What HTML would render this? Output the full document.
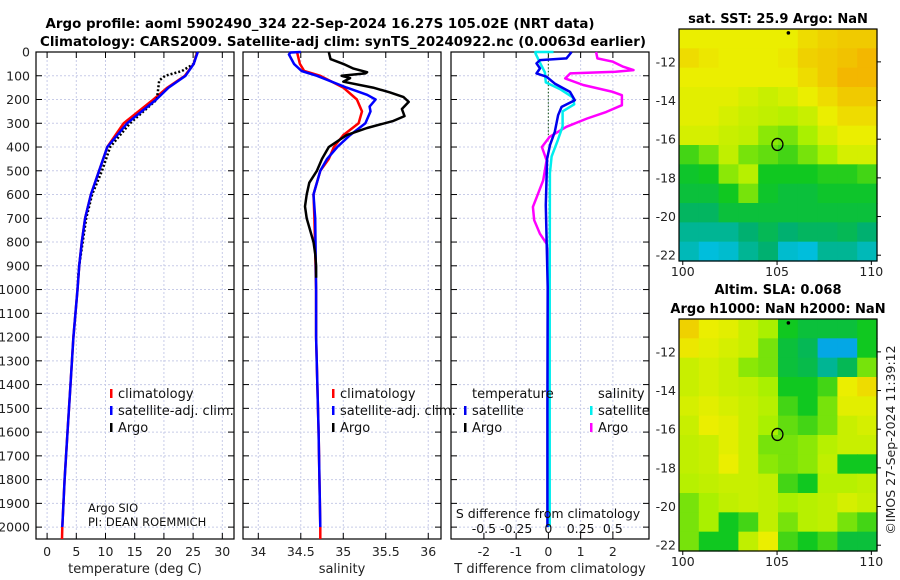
<!DOCTYPE html>
<html><head><meta charset="utf-8"><style>
html,body{margin:0;padding:0;background:#fff;}
svg{display:block;font-family:"DejaVu Sans","Liberation Sans",sans-serif;}
</style></head><body>
<svg id="fig" width="900" height="580" viewBox="0 0 900 580" xmlns="http://www.w3.org/2000/svg">
<text x="320" y="28" font-size="13" font-weight="bold" text-anchor="middle" textLength="549" lengthAdjust="spacingAndGlyphs">Argo profile: aoml 5902490_324 22-Sep-2024 16.27S 105.02E (NRT data)</text>
<text x="343" y="46" font-size="13" font-weight="bold" text-anchor="middle" textLength="606" lengthAdjust="spacingAndGlyphs">Climatology: CARS2009. Satellite-adj clim: synTS_20240922.nc (0.0063d earlier)</text>
<g id="g"></g>
</svg>
<script>
// ---------- data ----------
const tClimDepth=[0,50,100,150,200,300,400,500,600,700,800,900,1000,1200,1400,1600,1800,2000,2050];
const tClimVal=[25.7,25.1,23.6,20.6,18.2,13.1,10.3,8.9,7.5,6.5,5.95,5.5,5.2,4.5,4.0,3.5,3.0,2.6,2.55];
const tSatDepth=[0,50,100,150,200,300,400,500,600,700,800,900,1000,1200,1400,1600,1800,2000];
const tSatVal=[25.8,25.1,23.7,20.8,18.7,13.7,10.3,8.9,7.5,6.5,5.95,5.5,5.2,4.5,4.0,3.5,3.0,2.6];
const tArgoDepth=[0,50,80,100,120,200,300,400,500,600,700,800,900,950];
const tArgoVal=[25.7,25.1,23.1,20.2,19.2,18.8,14.2,10.8,9.4,7.7,6.7,6.1,5.5,5.3];
const sClimDepth=[0,50,80,100,150,200,250,300,350,400,450,500,600,700,1000,1200,1600,2000,2050];
const sClimVal=[34.455,34.49,34.54,34.73,35.0,35.16,35.22,35.18,35.0,34.89,34.83,34.73,34.65,34.66,34.68,34.68,34.71,34.73,34.73];
const sSatDepth=[0,2,10,50,80,100,150,180,200,230,250,300,350,400,450,500,600,700,1000,1200,1600,2000];
const sSatVal=[34.5,34.38,34.36,34.42,34.51,34.69,35.04,35.28,35.38,35.31,35.32,35.26,35.08,34.93,34.81,34.73,34.65,34.67,34.68,34.68,34.71,34.73];
const sArgoDepth=[0,30,50,70,85,90,100,110,125,150,170,190,210,240,270,290,320,350,400,450,500,550,600,650,700,750,800,850,900,950];
const sArgoVal=[34.83,34.85,35.0,35.12,35.28,35.26,34.98,35.08,35.0,35.35,35.55,35.71,35.77,35.69,35.72,35.59,35.28,35.04,34.83,34.75,34.69,34.6,34.57,34.55,34.57,34.61,34.65,34.67,34.68,34.68];
const dTSatDepth=[0,27,34,48,69,90,104,133,168,203,231,266,336,392,449,645,990,1500,2000];
const dTSatVal=[0.72,0.56,-0.26,-0.37,-0.26,-0.37,-0.06,0.2,0.67,0.82,0.41,0.3,0.2,0.05,-0.04,-0.08,-0.02,-0.03,-0.03];
const dSSatDepth=[0,0,6,44,86,128,156,191,220,250,313,370,440,510,1000,1500,2000];
const dSSatVal=[0.04,-0.1,-0.1,-0.066,-0.027,-0.02,0.09,0.19,0.2,0.11,0.11,0.074,0.025,0.012,0.01,0.01,0.01];
const dSArgoDepth=[0,27,41,62,76,83,90,111,139,168,182,224,252,280,315,357,400,456,540,610,652,708,765,807,863,933,950];
const dSArgoVal=[0.37,0.38,0.5,0.58,0.66,0.52,0.17,0.13,0.27,0.5,0.57,0.57,0.45,0.3,0.14,0.01,-0.05,-0.014,-0.04,-0.09,-0.12,-0.11,-0.066,-0.014,0.0,0.01,0.01];
const depthTicks=[0,100,200,300,400,500,600,700,800,900,1000,1100,1200,1300,1400,1500,1600,1700,1800,1900,2000];
const tTicks=[0,5,10,15,20,25,30];
const sTicks=[34,34.5,35,35.5,36];
const sTickLabels=["34","34.5","35","35.5","36"];
const dTTicks=[-2,-1,0,1,2];
const dSTicks=[-0.5,-0.25,0,0.25,0.5];
const dSTickLabels=["-0.5","-0.25","0","0.25","0.5"];
const latTicks=[-12,-14,-16,-18,-20,-22];
const lonTicks=[100,105,110];
const sstGrid=[
[0.8,0.8,0.8,0.8,0.8,0.8,0.85,0.88,0.9,0.9],
[0.85,0.82,0.8,0.8,0.8,0.82,0.88,0.9,0.92,0.95],
[0.8,0.8,0.8,0.8,0.8,0.8,0.85,0.9,0.95,0.95],
[0.78,0.78,0.78,0.75,0.72,0.75,0.8,0.85,0.9,0.9],
[0.78,0.78,0.75,0.72,0.7,0.68,0.72,0.8,0.85,0.85],
[0.75,0.75,0.72,0.7,0.62,0.6,0.65,0.75,0.8,0.8],
[0.55,0.6,0.7,0.6,0.58,0.55,0.6,0.65,0.75,0.75],
[0.48,0.5,0.62,0.68,0.5,0.5,0.5,0.52,0.52,0.55],
[0.45,0.45,0.5,0.6,0.48,0.45,0.45,0.48,0.48,0.48],
[0.38,0.38,0.45,0.45,0.45,0.45,0.45,0.45,0.45,0.45],
[0.3,0.3,0.3,0.35,0.4,0.35,0.38,0.38,0.4,0.35],
[0.25,0.2,0.22,0.3,0.35,0.22,0.2,0.3,0.3,0.25]];
const slaGrid=[
[0.88,0.8,0.78,0.72,0.65,0.5,0.45,0.45,0.45,0.5],
[0.82,0.78,0.75,0.72,0.6,0.45,0.4,0.15,0.15,0.5],
[0.72,0.75,0.72,0.62,0.6,0.45,0.42,0.3,0.4,0.6],
[0.72,0.75,0.72,0.7,0.65,0.5,0.5,0.55,0.8,0.85],
[0.75,0.78,0.75,0.72,0.68,0.55,0.5,0.6,0.78,0.78],
[0.72,0.8,0.78,0.72,0.65,0.58,0.55,0.6,0.72,0.75],
[0.7,0.72,0.78,0.72,0.6,0.6,0.62,0.68,0.72,0.72],
[0.7,0.72,0.8,0.72,0.62,0.6,0.62,0.7,0.5,0.5],
[0.68,0.7,0.72,0.72,0.7,0.55,0.5,0.68,0.68,0.7],
[0.6,0.65,0.7,0.72,0.7,0.65,0.68,0.7,0.75,0.72],
[0.6,0.65,0.5,0.55,0.7,0.6,0.68,0.7,0.6,0.55],
[0.6,0.5,0.5,0.7,0.8,0.55,0.5,0.55,0.45,0.45]];
const floatLon=[105.02], floatLat=[-16.27];

// ---------- helpers ----------
const NS="http://www.w3.org/2000/svg";
const G=document.getElementById('g');
function mk(tag,attrs,parent){const e=document.createElementNS(NS,tag);for(const k in attrs)e.setAttribute(k,attrs[k]);(parent||G).appendChild(e);return e;}
const TOP=52, BOT=539, D0=0, D1=2050;
const yD=d=>TOP+(d-D0)/(D1-D0)*(BOT-TOP);
function lin(a0,a1,p0,p1){return v=>p0+(v-a0)/(a1-a0)*(p1-p0);}
const panels=[
 {x0:36,x1:234,v0:-1.9,v1:32,ticks:tTicks,labels:tTicks.map(String),label:"temperature (deg C)",name:"temperature-panel"},
 {x0:243,x1:441,v0:33.82,v1:36.15,ticks:sTicks,labels:sTickLabels,label:"salinity",name:"salinity-panel"},
 {x0:451,x1:649,v0:-3.02,v1:3.12,ticks:dTTicks,labels:dTTicks.map(String),label:"T difference from climatology",name:"difference-panel"}];
panels.forEach(p=>{p.xs=lin(p.v0,p.v1,p.x0,p.x1);});

function drawPanel(p,idx){
 const g=mk('g',{});
 
 
 depthTicks.forEach(d=>{const y=yD(d);
  const l=mk('line',{x1:p.x0,x2:p.x1,y1:y,y2:y,stroke:'#c8cce8','stroke-width':1,'stroke-dasharray':'2,2'},g);
  
  mk('line',{x1:p.x0,x2:p.x0+6,y1:y,y2:y,stroke:'#000'},g);
  mk('line',{x1:p.x1-6,x2:p.x1,y1:y,y2:y,stroke:'#000'},g);
  if(idx===0){const t=mk('text',{x:30,y:y+4.5,'font-size':12.5,'text-anchor':'end',fill:'#222'},g);t.textContent=d;
   }
 });
 p.ticks.forEach((v,i)=>{const x=p.xs(v);
  const l=mk('line',{x1:x,x2:x,y1:TOP,y2:BOT,stroke:'#c8cce8','stroke-width':1,'stroke-dasharray':'2,2'},g);
  
  mk('line',{x1:x,x2:x,y1:BOT-6,y2:BOT,stroke:'#000'},g);
  mk('line',{x1:x,x2:x,y1:TOP,y2:TOP+6,stroke:'#000'},g);
  const t=mk('text',{x:x,y:556,'font-size':12.5,'text-anchor':'middle',fill:'#222'},g);t.textContent=p.labels[i];
  
 });
 const r=mk('rect',{x:p.x0,y:TOP,width:p.x1-p.x0,height:BOT-TOP,fill:'none',stroke:'#000','stroke-width':1.2},g);
 
 const xl=mk('text',{x:(p.x0+p.x1)/2,y:573,'font-size':13,'text-anchor':'middle',fill:'#222'},g);xl.textContent=p.label;
 
}
panels.forEach(drawPanel);

function series(xs,depths,vals,color,w,dash,name){
 const pts=depths.map((d,i)=>xs(vals[i]).toFixed(1)+','+yD(d).toFixed(1)).join(' ');
 const a={points:pts,fill:'none',stroke:color,'stroke-width':w,'stroke-linejoin':'round'};
 if(dash)a['stroke-dasharray']=dash;
 const e=mk('polyline',a);
 
 
}
const P=panels;
series(P[0].xs,tClimDepth,tClimVal,'#f00',2.5,null,'temperature-climatology-line');
series(P[0].xs,tArgoDepth,tArgoVal,'#000',2.5,'2,2','temperature-argo-line');
series(P[0].xs,tSatDepth,tSatVal,'#00f',2.5,null,'temperature-satellite-line');
series(P[1].xs,sClimDepth,sClimVal,'#f00',2.5,null,'salinity-climatology-line');
series(P[1].xs,sSatDepth,sSatVal,'#00f',2.5,null,'salinity-satellite-line');
series(P[1].xs,sArgoDepth,sArgoVal,'#000',2.5,null,'salinity-argo-line');
const sdx=v=>P[2].xs(v*4);
{const z=P[2].xs(0);const l=mk('line',{x1:z,x2:z,y1:yD(5),y2:yD(350),stroke:'#363','stroke-width':1.2,'stroke-dasharray':'1.5,2'});
 }
series(sdx,dSArgoDepth,dSArgoVal,'#f0f',2.5,null,'salinity-difference-argo-line');
series(sdx,dSSatDepth,dSSatVal,'#0ee',2.5,null,'salinity-difference-satellite-line');
series(P[2].xs,dTSatDepth,dTSatVal,'#00e',2.5,null,'temperature-difference-satellite-line');

{const t=mk('text',{x:548,y:518,'font-size':12.5,'text-anchor':'middle',fill:'#111'});t.textContent='S difference from climatology';
 }
dSTicks.forEach((v,i)=>{const t=mk('text',{x:sdx(v),y:533,'font-size':12.5,'text-anchor':'middle',fill:'#111'});t.textContent=dSTickLabels[i];
 });

function legItem(x,y,color,label,name){
 const g=mk('g',{});
 
 
 if(color)mk('rect',{x:x,y:y-9,width:2.5,height:9,fill:color},g);
 const t=mk('text',{x:x+8,y:y,'font-size':13,fill:'#111'},g);t.textContent=label;
}
[[110,'climatology-legend'],[332,'salinity-climatology-legend']].forEach(([x,n])=>{
 legItem(x,398,'#f00','climatology',n+'-climatology');
 legItem(x,415,'#00f','satellite-adj. clim.',n+'-satellite');
 legItem(x,432,'#000','Argo',n+'-argo');
});
legItem(464,398,null,'temperature','legend-temperature-heading');
legItem(464,415,'#00e','satellite','legend-t-satellite');
legItem(464,432,'#000','Argo','legend-t-argo');
legItem(590,398,null,'salinity','legend-salinity-heading');
legItem(590,415,'#0ee','satellite','legend-s-satellite');
legItem(590,432,'#f0f','Argo','legend-s-argo');
{const t=mk('text',{x:88,y:512,'font-size':11.5,fill:'#111'});t.textContent='Argo SIO';
 const t2=mk('text',{x:88,y:526,'font-size':11.5,fill:'#111'});t2.textContent='PI: DEAN ROEMMICH';}

// ---------- maps ----------
const stops=[[0,[16,96,255]],[0.2,[0,190,220]],[0.35,[0,176,112]],[0.5,[16,200,32]],[0.65,[170,240,0]],[0.8,[235,238,0]],[1,[245,165,0]]];
function cmap(v){for(let i=1;i<stops.length;i++){if(v<=stops[i][0]){const a=stops[i-1],b=stops[i],f=(v-a[0])/(b[0]-a[0]);
 return 'rgb('+a[1].map((c,k)=>Math.round(c+(b[1][k]-c)*f)).join(',')+')';}}return 'rgb(245,165,0)';}
function drawMap(grid,top,bot,titles,name){
 const x0=679,x1=877,lon0=99.8,lon1=110.3,lat0=-10.3,lat1=-22.3;
 const xs=lin(lon0,lon1,x0,x1), ys=lin(lat0,lat1,top,bot);
 const g=mk('g',{});
 
 
 const nr=grid.length,nc=grid[0].length,dl=(lon1-lon0)/nc,dt=(lat0-lat1)/nr;
 grid.forEach((row,r)=>row.forEach((v,c)=>{
  const xa=xs(lon0+c*dl),xb=xs(lon0+(c+1)*dl),ya=ys(lat0-r*dt),yb=ys(lat0-(r+1)*dt);
  const e=mk('rect',{x:xa,y:ya,width:xb-xa+0.6,height:yb-ya+0.6,fill:cmap(v)},g);
  
  
 }));
 mk('rect',{x:x0,y:top,width:x1-x0,height:bot-top,fill:'none',stroke:'#000','stroke-width':1.2},g);
 latTicks.forEach(v=>{const y=ys(v);mk('line',{x1:x1,x2:x1+4,y1:y,y2:y,stroke:'#000'},g);
  const t=mk('text',{x:x0-3,y:y+4.5,'font-size':12.5,'text-anchor':'end',fill:'#222'},g);t.textContent=v;
  });
 lonTicks.forEach(v=>{const x=xs(v);mk('line',{x1:x,x2:x,y1:bot,y2:bot+4,stroke:'#000'},g);
  const t=mk('text',{x:x,y:bot+15,'font-size':12.5,'text-anchor':'middle',fill:'#222'},g);t.textContent=v;
  });
 const c=mk('ellipse',{cx:xs(floatLon[0]),cy:ys(floatLat[0]),rx:5.5,ry:6,fill:'none',stroke:'#000','stroke-width':1.3},g);
 
 mk('circle',{cx:xs(105.6),cy:ys(-10.5),r:1.8,fill:'#000'},g);
 titles.forEach((s,i)=>{const t=mk('text',{x:(x0+x1)/2,y:top-6-(titles.length-1-i)*19,'font-size':13,'font-weight':'bold','text-anchor':'middle',fill:'#000'},g);t.textContent=s;
  });
}
drawMap(sstGrid,29,261,['sat. SST: 25.9 Argo: NaN'],'sst-map');
drawMap(slaGrid,319,551,['Altim. SLA: 0.068','Argo h1000: NaN h2000: NaN'],'sla-map');
{const t=mk('text',{x:0,y:0,'font-size':12.5,'text-anchor':'middle',fill:'#222',transform:'translate(895,440) rotate(-90)'});
 t.textContent='©IMOS 27-Sep-2024 11:39:12';}
</script>
</body></html>
